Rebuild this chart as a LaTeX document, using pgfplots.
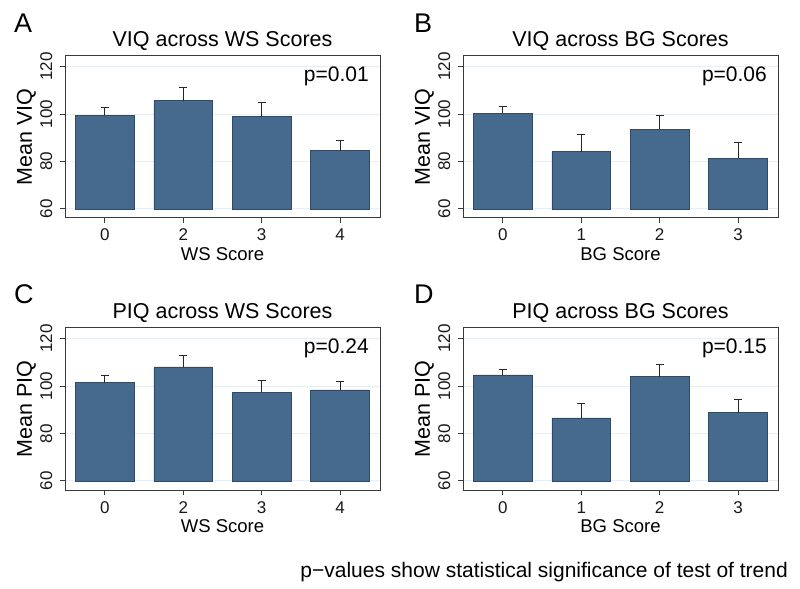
\documentclass[border=0pt]{standalone}
\usepackage{fontspec}
\setmainfont{Liberation Sans}
\usepackage{pgfplots}
\pgfplotsset{compat=1.18}
\definecolor{barfill}{HTML}{46698E}
\definecolor{bardraw}{HTML}{2E4C6A}
\definecolor{gridc}{HTML}{E9EEF3}
\definecolor{framec}{HTML}{3A3A3A}
\tikzset{pval/.style={anchor=base east, inner sep=0pt, font=\fontsize{21bp}{25bp}\selectfont}}
\pgfplotsset{
 every axis title shift=0pt,
 panel/.style={
  scale only axis, width=315bp, height=162bp,
  anchor=south west,
  xmin=-0.51, xmax=3.51,
  ymin=56.2, ymax=124.5,
  y coord trafo/.code={\pgfmathparse{##1-60}},
  y coord inv trafo/.code={\pgfmathparse{##1+60}},
  ytick={60,80,100,120}, yticklabels={60,80,100,120},
  xtick={0,1,2,3},
  tick align=outside, major tick length=5bp,
  xtick pos=bottom, ytick pos=left,
  ymajorgrids, major grid style={gridc, line width=1bp},
  axis line style={framec, line width=1bp},
  tick style={framec, line width=1bp},
  /pgf/number format/assume math mode=true,
  tick label style={font=\fontsize{17bp}{20bp}\selectfont, text=black!90},
  xticklabel style={anchor=base, yshift=-18bp},
  yticklabel style={xshift=-8bp, rotate=90, anchor=base},
  xlabel style={at={(axis description cs:0.5,-0.2623)}, anchor=base, font=\fontsize{18.5bp}{22bp}\selectfont},
  ylabel style={at={(axis description cs:-0.1048,0.5)}, anchor=base, font=\fontsize{21.5bp}{25bp}\selectfont},
  title style={at={(axis description cs:0.5,1.0556)}, anchor=base, font=\fontsize{21.5bp}{25bp}\selectfont},
  ybar, bar width=0.75,
 },
 barsty/.style={fill=barfill, draw=bardraw, line width=0.6bp,
  error bars/.cd, y dir=plus, y explicit,
  error bar style={line width=1bp, black!85},
  error mark options={rotate=90, mark size=4bp, line width=1bp, black!85}},
}
\begin{document}
\begin{tikzpicture}
\path[use as bounding box] (0,0) rectangle (800bp,589bp);
% Panel A
\begin{axis}[panel, at={(65bp,371bp)}, title={VIQ across WS Scores},
  xticklabels={0,2,3,4}, xlabel={WS Score}, ylabel={Mean VIQ}]
\addplot[barsty] table[x=x, y=y, y error=e] {
x y e
0 99.6 3.3
1 105.7 5.4
2 98.9 6.1
3 84.6 4.1
};
\node[pval] at (axis description cs:0.9651,0.8395) {p=0.01};
\end{axis}
% Panel B
\begin{axis}[panel, at={(463bp,371bp)}, title={VIQ across BG Scores},
  xticklabels={0,1,2,3}, xlabel={BG Score}, ylabel={Mean VIQ}]
\addplot[barsty] table[x=x, y=y, y error=e] {
x y e
0 100.3 3.1
1 84.2 7.3
2 93.6 6.0
3 81.4 6.8
};
\node[pval] at (axis description cs:0.9651,0.8395) {p=0.06};
\end{axis}
% Panel C
\begin{axis}[panel, at={(65bp,99bp)}, title={PIQ across WS Scores},
  xticklabels={0,2,3,4}, xlabel={WS Score}, ylabel={Mean PIQ}]
\addplot[barsty] table[x=x, y=y, y error=e] {
x y e
0 101.4 2.9
1 108.1 4.6
2 97.5 5.0
3 98.4 3.6
};
\node[pval] at (axis description cs:0.9651,0.8395) {p=0.24};
\end{axis}
% Panel D
\begin{axis}[panel, at={(463bp,99bp)}, title={PIQ across BG Scores},
  xticklabels={0,1,2,3}, xlabel={BG Score}, ylabel={Mean PIQ}]
\addplot[barsty] table[x=x, y=y, y error=e] {
x y e
0 104.7 2.2
1 86.6 6.0
2 104.0 5.2
3 88.8 5.6
};
\node[pval] at (axis description cs:0.9651,0.8395) {p=0.15};
\end{axis}
% panel letters
\node[anchor=base west, inner sep=0pt, font=\fontsize{27bp}{30bp}\selectfont] at (14bp,556bp) {A};
\node[anchor=base west, inner sep=0pt, font=\fontsize{27bp}{30bp}\selectfont] at (414bp,556bp) {B};
\node[anchor=base west, inner sep=0pt, font=\fontsize{27bp}{30bp}\selectfont] at (14bp,285.7bp) {C};
\node[anchor=base west, inner sep=0pt, font=\fontsize{27bp}{30bp}\selectfont] at (414bp,285.7bp) {D};
\node[anchor=base east, inner sep=0pt, font=\fontsize{21bp}{25bp}\selectfont] at (788bp,12bp) {p−values show statistical significance of test of trend};
\end{tikzpicture}
\end{document}
